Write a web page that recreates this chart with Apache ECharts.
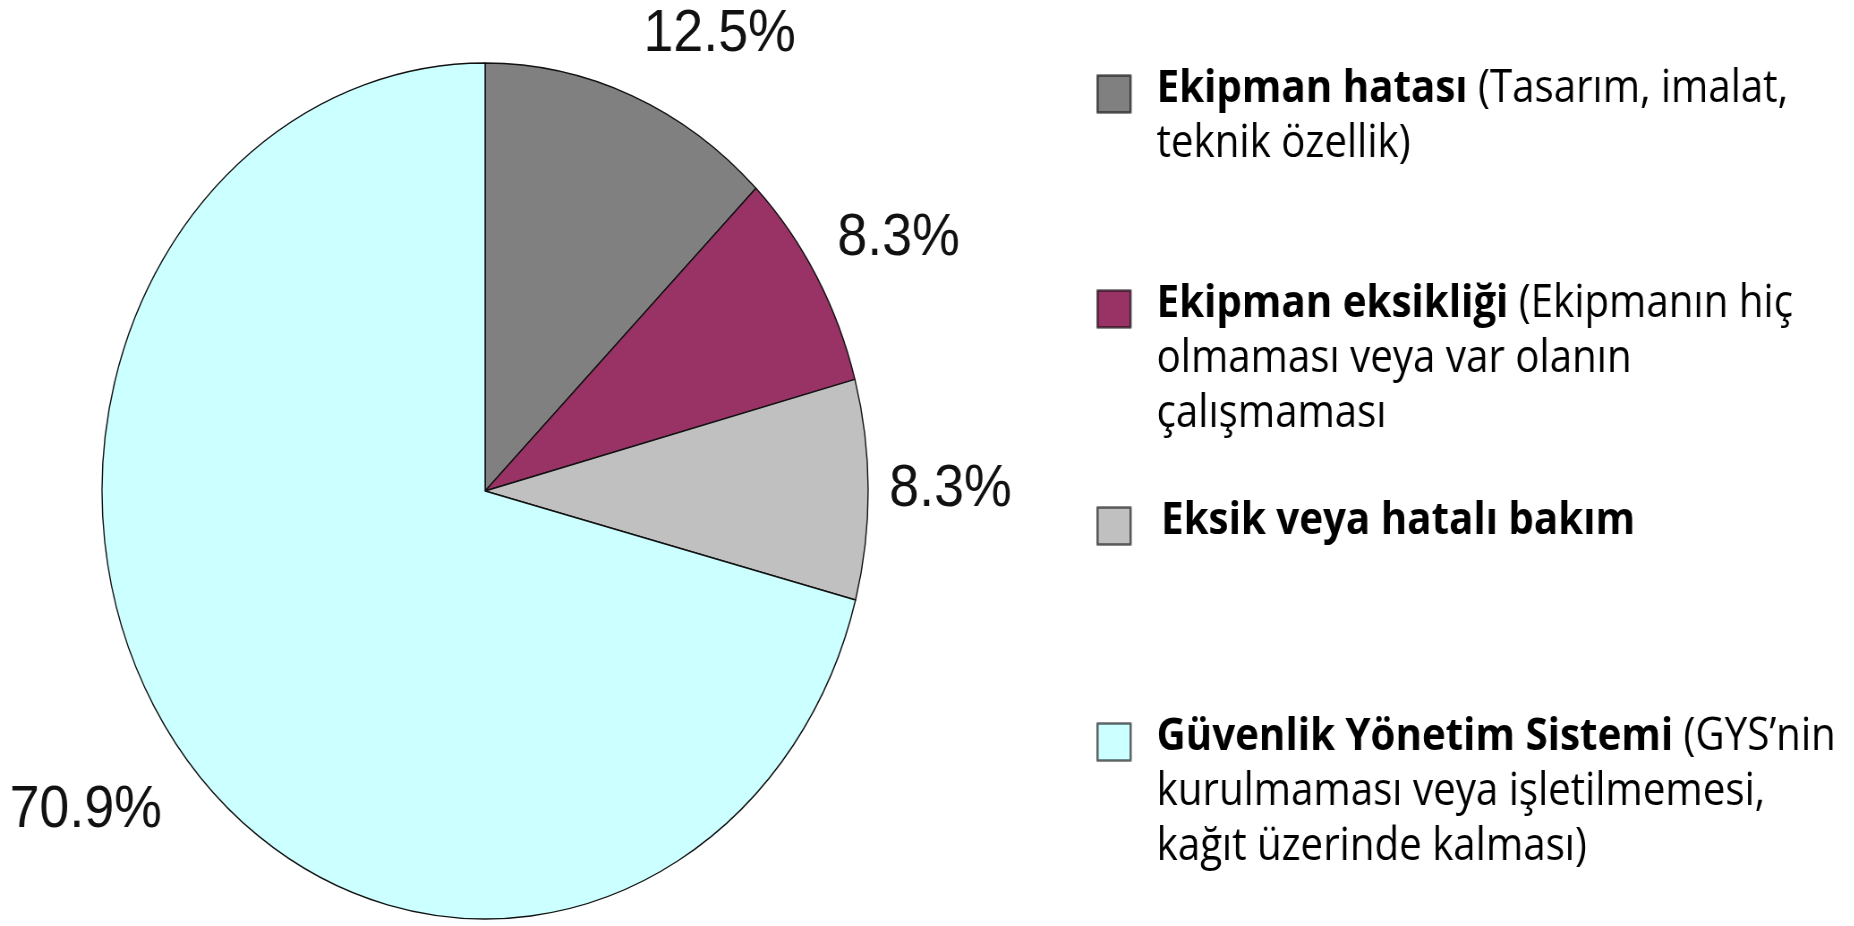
<!DOCTYPE html>
<html>
<head>
<meta charset="utf-8">
<script src="https://cdn.jsdelivr.net/npm/echarts@6/dist/echarts.min.js"></script>
<style>
  html, body { margin: 0; padding: 0; background: #fff; overflow: hidden; }
  /* the source picture is squeezed horizontally, so the whole chart is too */
  #chart { width: 2072px; height: 926px; transform: scaleX(0.895); transform-origin: 0 0; }
</style>
</head>
<body>
<div id="chart"></div>
<script>
const categories = ['Ekipman hatası', 'Ekipman eksikliği', 'Eksik veya hatalı bakım', 'Güvenlik Yönetim Sistemi'];
const details = [
  ' (Tasarım, imalat,\nteknik özellik)',
  ' (Ekipmanın hiç\nolmaması veya var olanın\nçalışmaması',
  '',
  ' (GYS’nin\nkurulmaması veya işletilmemesi,\nkağıt üzerinde kalması)'
];
const shares = [12.5, 8.3, 8.3, 70.9];
const colors = ['#808080', '#993366', '#C0C0C0', '#CCFFFF'];

// layout, in unsqueezed chart pixels
const center = [542, 491];
const radius = 428;
const labelNudge = [[60, 31], [5, 12], [-8, 0], [-28, -3]];
const legendIconY = [94, 309, 526, 742];
const lineH = 55;

const chart = echarts.init(document.getElementById('chart'));

const legends = categories.map((name, i) => {
  const lines = details[i].split('\n').length;
  const padTop = (lines - 1) * lineH;
  const boxH = padTop + lines * lineH + 10;
  return {
    orient: 'vertical',
    left: 1225,
    top: legendIconY[i] - boxH / 2,
    padding: 0,
    icon: 'rect',
    itemWidth: 37,
    itemHeight: 37,
    selectedMode: false,
    itemStyle: { borderColor: 'rgba(0,0,0,0.6)', borderWidth: 2.5 },
    data: [{ name, textStyle: { padding: [padTop, 0, 10, i === 2 ? 29 : 24] } }],
    formatter: n => '{b|' + n + '}' + details[i],
    textStyle: {
      fontFamily: 'Open Sans',
      fontSize: 45,
      lineHeight: lineH,
      color: '#000',
      rich: {
        b: { fontFamily: 'Open Sans', fontSize: 45, lineHeight: lineH, fontWeight: 'bold', color: '#000' }
      }
    }
  };
});

chart.setOption({
  animation: false,
  backgroundColor: '#fff',
  legend: legends,
  series: [
    {
      type: 'pie',
      center,
      radius,
      startAngle: 90,
      clockwise: true,
      silent: true,
      label: { show: false },
      labelLine: { show: false },
      itemStyle: { borderColor: '#111', borderWidth: 1.4 },
      data: categories.map((name, i) => ({
        name,
        value: shares[i],
        itemStyle: { color: colors[i] }
      }))
    },
    {
      // invisible ring that only carries the percentage labels
      type: 'pie',
      center,
      radius: [radius + 87, radius + 107],
      startAngle: 90,
      clockwise: true,
      silent: true,
      itemStyle: { color: 'rgba(0,0,0,0)', borderWidth: 0 },
      label: {
        show: true,
        position: 'inside',
        formatter: '{c}%',
        fontFamily: 'Liberation Sans',
        fontSize: 60,
        color: '#111'
      },
      labelLine: { show: false },
      data: categories.map((name, i) => ({
        name,
        value: shares[i],
        label: { offset: labelNudge[i] }
      }))
    }
  ]
});
</script>
</body>
</html>
